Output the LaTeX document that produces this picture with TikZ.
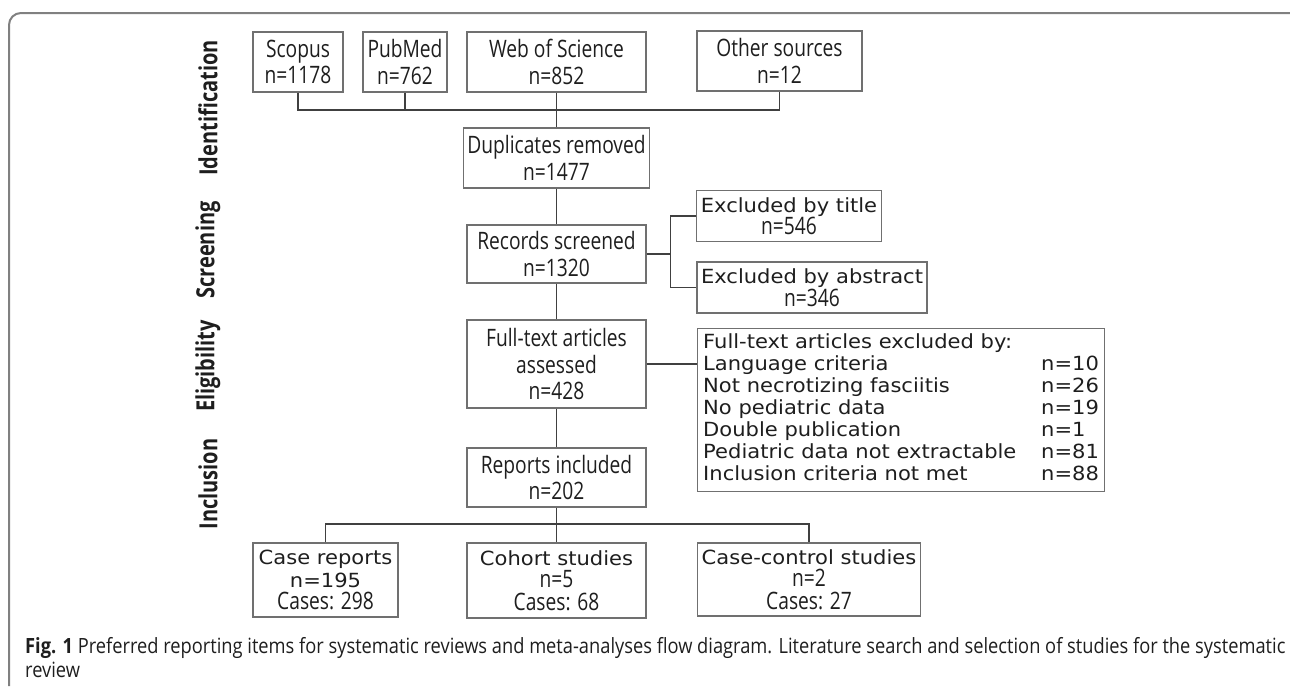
\documentclass[tikz,border=0pt]{standalone}
\usepackage{fontspec}
\setmainfont{Open Sans}[FakeStretch=0.8]
\newfontfamily\widefont{DejaVu Sans}[FakeStretch=1.08]
\newfontfamily\capfont{Open Sans}[FakeStretch=0.87]
\definecolor{boxgray}{HTML}{707070}
\definecolor{linkgray}{HTML}{404040}
\definecolor{framegray}{HTML}{808080}
\definecolor{inkgray}{HTML}{1E1E1E}
\def\boxsize{\fontsize{24}{26.5}\selectfont}
\def\tightsize{\fontsize{24}{22.5}\selectfont}
\def\widesize{\widefont\fontsize{19.5}{22}\selectfont}
\def\wide#1{{\widesize #1}}

\begin{document}
\begin{tikzpicture}[x=1pt, y=-1pt, box/.style={rectangle, draw=boxgray, line width=1.2pt, inner xsep=4pt, inner ysep=1pt, align=center, text=inkgray, font=\boxsize}, link/.style={draw=linkgray, line width=1.3pt}, phase/.style={rotate=90, text=inkgray, font=\bfseries\fontsize{25}{25}\selectfont}]
  \useasboundingbox (0,0) rectangle (1290,686);

  % frame
  \draw[framegray, line width=2pt, rounded corners=12pt] (1290,13) -- (9,13) -- (9,686);

  % phases
  \node[phase] (ident) at (208,108) {Identification};
  \node[phase] (screen) at (208,250) {Screening};
  \node[phase] (elig) at (208,366) {Eligibility};
  \node[phase] (incl) at (208,484) {Inclusion};

  % sources
  \node[box, minimum width=90, minimum height=60] (scopus) at (298,62) {Scopus\\n=1178};
  \node[box, minimum width=84, minimum height=60] (pubmed) at (405,62) {PubMed\\n=762};
  \node[box, minimum width=179, minimum height=60] (web) at (556.5,62) {Web of Science\\n=852};
  \node[box, minimum width=165, minimum height=60] (other) at (779.5,61) {Other sources\\n=12};

  % main column
  \node[box, minimum width=179, minimum height=60] (dupl) at (556.5,158) {Duplicates removed\\n=1477};
  \node[box, minimum width=179, minimum height=58] (records) at (556.5,254) {Records screened\\n=1320};
  \node[box, minimum width=179, minimum height=88] (assessed) at (556.5,364) {Full-text articles\\assessed\\n=428};
  \node[box, minimum width=179, minimum height=59] (included) at (556.5,477.5) {Reports included\\n=202};

  % exclusions
  \node[box, minimum width=184, minimum height=51, font=\tightsize] (bytitle) at (789,216) {\wide{Excluded by title}\\n=546};
  \node[box, minimum width=230, minimum height=51, font=\tightsize] (byabstract) at (812,287.5) {\wide{Excluded by abstract}\\n=346};
  \node[box, minimum width=407, minimum height=163, font=\widesize, anchor=north west] (fulltext) at (697,328) {%
    \begin{tabular}{@{}p{338pt}@{}l@{}}
      \multicolumn{2}{@{}l@{}}{Full-text articles excluded by:}\\
      Language criteria & n=10\\
      Not necrotizing fasciitis & n=26\\
      No pediatric data & n=19\\
      Double publication & n=1\\
      Pediatric data not extractable & n=81\\
      Inclusion criteria not met & n=88
    \end{tabular}};

  % study types
  \node[box, minimum width=145, minimum height=74, font=\tightsize] (casereports) at (325.5,580) {\wide{Case reports}\\\wide{n=195}\\Cases: 298};
  \node[box, minimum width=179, minimum height=75, font=\tightsize] (cohort) at (556.5,580.5) {\wide{Cohort studies}\\n=5\\Cases: 68};
  \node[box, minimum width=222, minimum height=73, font=\tightsize] (casecontrol) at (809,579.5) {\wide{Case-control studies}\\n=2\\Cases: 27};

  % connectors
  \coordinate (srcbar) at (556.5,110);
  \coordinate (scrbranch) at ([xshift=24pt]records.east);
  \coordinate (inclbar) at (556.5,524);
  \draw[link] (scopus.south) |- (srcbar) -| (other.south);
  \draw[link] (pubmed.south) -- (pubmed.south |- srcbar);
  \draw[link] (web.south) -- (dupl.north);
  \draw[link] (dupl.south) -- (records.north);
  \draw[link] (records.south) -- (assessed.north);
  \draw[link] (assessed.south) -- (included.north);
  \draw[link] (records.east) -- (scrbranch);
  \draw[link] (bytitle.west) -| (scrbranch) |- (byabstract.west);
  \draw[link] (assessed.east) -- (assessed.east -| fulltext.west);
  \draw[link] (casereports.north) |- (inclbar) -| (casecontrol.north);
  \draw[link] (included.south) -- (cohort.north);

  % caption
  \node[anchor=north west, align=left, inner sep=0pt, text=inkgray, font=\capfont\fontsize{21}{24}\selectfont] (figcap) at (25,637) {\textbf{Fig. 1} Preferred reporting items for systematic reviews and meta-analyses flow diagram. Literature search and selection of studies for the systematic\\review};
\end{tikzpicture}
\end{document}
